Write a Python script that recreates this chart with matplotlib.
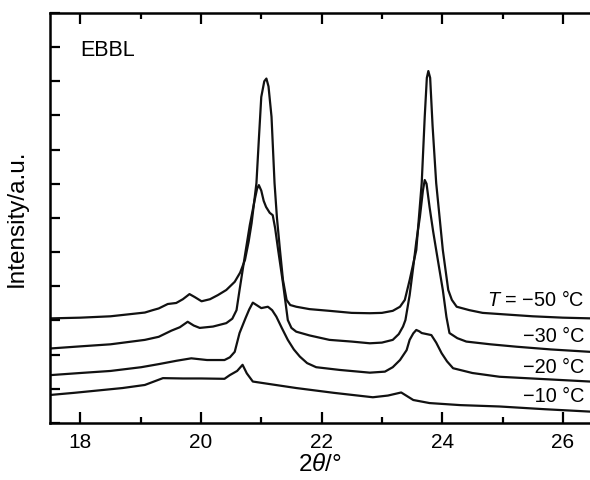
import numpy as np
import matplotlib
matplotlib.use("Agg")
from matplotlib import pyplot as plt
from matplotlib.ticker import MultipleLocator

plt.rcParams['font.family'] = ['Liberation Sans', 'DejaVu Sans']
plt.rcParams['mathtext.fontset'] = 'custom'
plt.rcParams['mathtext.rm'] = 'Liberation Sans'
plt.rcParams['mathtext.it'] = 'Liberation Sans:italic'

# curves (2theta in degrees, intensity in arbitrary units)
x_m50 = [17.52, 18.0, 18.5, 19.07, 19.2, 19.3, 19.45, 19.59, 19.7, 19.81, 19.9, 20.01, 20.15, 20.28, 20.42,
         20.56, 20.65, 20.73, 20.79, 20.84, 20.92, 20.96, 21.00, 21.05, 21.085, 21.12, 21.17, 21.22, 21.26,
         21.31, 21.36, 21.42, 21.48, 21.58, 21.8, 22.13, 22.5, 22.80, 23.0, 23.18, 23.30, 23.38, 23.46, 23.57,
         23.66, 23.71, 23.745, 23.77, 23.80, 23.84, 23.90, 24.01, 24.10, 24.16, 24.24, 24.45, 24.67, 25.0,
         25.5, 26.0, 26.45]
y_m50 = [3.06, 3.08, 3.12, 3.23, 3.30, 3.35, 3.48, 3.51, 3.62, 3.77, 3.68, 3.56, 3.62, 3.74, 3.89,
         4.13, 4.40, 4.77, 5.30, 5.85, 7.02, 8.30, 9.54, 10.0, 10.08, 9.85, 8.96, 7.02, 6.00,
         5.06, 4.18, 3.60, 3.45, 3.40, 3.33, 3.28, 3.22, 3.21, 3.22, 3.28, 3.40, 3.60, 4.18, 5.06,
         7.02, 8.96, 10.1, 10.3, 10.1, 8.7, 7.02, 5.06, 3.89, 3.60, 3.40, 3.30, 3.22, 3.18,
         3.12, 3.08, 3.06]

x_m30 = [17.52, 18.0, 18.5, 19.07, 19.3, 19.51, 19.65, 19.78, 19.88, 19.98, 20.2, 20.42, 20.52, 20.59, 20.64,
         20.73, 20.81, 20.89, 20.93, 20.96, 21.00, 21.04, 21.08, 21.14, 21.19, 21.23, 21.28, 21.36, 21.44,
         21.50, 21.58, 21.8, 22.13, 22.50, 22.80, 23.00, 23.18, 23.28, 23.35, 23.39, 23.46, 23.52, 23.57,
         23.63, 23.68, 23.71, 23.74, 23.79, 23.85, 23.90, 24.01, 24.07, 24.12, 24.25, 24.40, 24.8, 25.23,
         25.8, 26.45]
y_m30 = [2.18, 2.24, 2.30, 2.43, 2.52, 2.70, 2.80, 2.96, 2.85, 2.78, 2.82, 2.92, 3.05, 3.30, 3.89,
         4.91, 5.79, 6.52, 6.85, 6.96, 6.80, 6.50, 6.32, 6.15, 6.08, 5.70, 5.06, 4.09, 3.01,
         2.78, 2.67, 2.56, 2.43, 2.38, 2.33, 2.35, 2.43, 2.60, 2.82, 3.01, 3.74, 4.57, 5.30,
         6.03, 6.80, 7.11, 7.00, 6.32, 5.60, 5.06, 3.89, 3.10, 2.63, 2.48, 2.38, 2.30, 2.23,
         2.15, 2.08]

x_m20 = [17.52, 18.0, 18.5, 19.01, 19.3, 19.6, 19.84, 20.1, 20.39, 20.48, 20.56, 20.64, 20.74, 20.80, 20.86,
         20.93, 21.00, 21.11, 21.18, 21.25, 21.34, 21.44, 21.54, 21.64, 21.76, 21.91, 22.3, 22.80, 23.05, 23.18,
         23.30, 23.41, 23.46, 23.52, 23.57, 23.62, 23.66, 23.74, 23.82, 23.90, 23.99, 24.08, 24.18, 24.5,
         24.95, 25.7, 26.45]
y_m20 = [1.40, 1.46, 1.52, 1.63, 1.72, 1.82, 1.89, 1.84, 1.84, 1.92, 2.08, 2.63, 3.07, 3.32, 3.52,
         3.44, 3.36, 3.40, 3.30, 3.11, 2.78, 2.43, 2.15, 1.94, 1.75, 1.63, 1.55, 1.47, 1.50, 1.63,
         1.84, 2.13, 2.43, 2.62, 2.72, 2.68, 2.63, 2.60, 2.57, 2.35, 2.04, 1.80, 1.60, 1.46,
         1.35, 1.28, 1.21]

x_m10 = [17.52, 17.9, 18.3, 18.7, 19.07, 19.37, 19.7, 20.0, 20.39, 20.48, 20.60, 20.69, 20.76, 20.86,
         21.2, 21.58, 22.2, 22.85, 23.1, 23.32, 23.42, 23.52, 23.79, 24.3, 24.95, 25.7, 26.45]
y_m10 = [0.82, 0.88, 0.95, 1.02, 1.11, 1.31, 1.30, 1.30, 1.29, 1.40, 1.52, 1.70, 1.45, 1.21,
         1.12, 1.02, 0.88, 0.75, 0.80, 0.89, 0.78, 0.67, 0.58, 0.52, 0.48, 0.40, 0.33]

labels = [r'$T$ = −50 °C', '−30 °C', '−20 °C', '−10 °C']
label_y = [3.60, 2.52, 1.61, 0.76]

fig = plt.figure(figsize=(5.9, 4.8), dpi=100)
ax = fig.add_axes([0.085, 0.119, 0.915, 0.854])

for xs, ys in [(x_m50, y_m50), (x_m30, y_m30), (x_m20, y_m20), (x_m10, y_m10)]:
    ax.plot(xs, ys, color='#111111', lw=1.6, solid_joinstyle='round')

for lab, yy in zip(labels, label_y):
    ax.text(26.36, yy, lab, ha='right', va='center', fontsize=14.3)

ax.text(18.0, 10.9, 'EBBL', ha='left', va='center', fontsize=15.5)

ax.set_xlim(17.5, 26.45)
ax.set_ylim(0, 12)
ax.xaxis.set_major_locator(MultipleLocator(2))
ax.xaxis.set_minor_locator(MultipleLocator(1))
ax.yaxis.set_major_locator(MultipleLocator(1))
ax.tick_params(axis='x', which='major', direction='in', length=8, width=1.6, labelsize=15, pad=7, top=True)
ax.tick_params(axis='x', which='minor', direction='in', length=4.5, width=1.6, top=True)
ax.tick_params(axis='y', which='major', direction='in', length=7.5, width=1.6, labelleft=False)
for s in ['left', 'bottom', 'top']:
    ax.spines[s].set_linewidth(1.8)
ax.spines['right'].set_visible(False)

ax.set_xlabel(r'2$\theta$/°', fontsize=17.5, labelpad=2)
ax.set_ylabel('Intensity/a.u.', fontsize=17.5, labelpad=16)

fig.savefig('out.png', dpi=100)
